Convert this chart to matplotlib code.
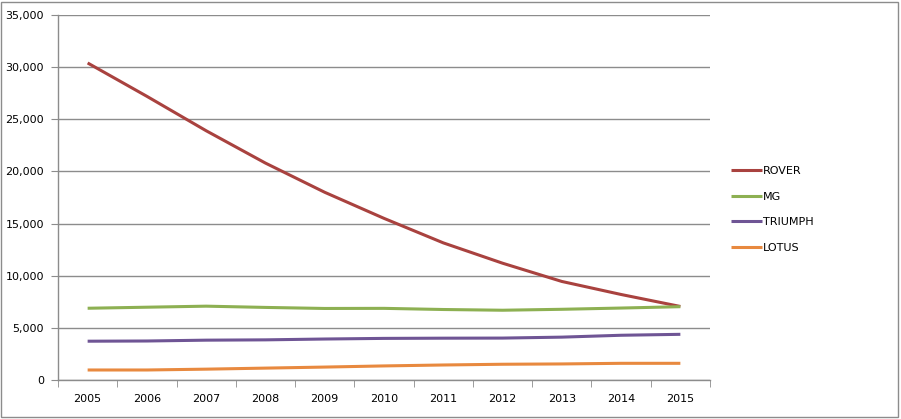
import matplotlib
matplotlib.use("Agg")
import matplotlib.pyplot as plt
from matplotlib.ticker import FuncFormatter, FixedLocator
from matplotlib.patches import Rectangle

years = ["2005", "2006", "2007", "2008", "2009", "2010", "2011", "2012", "2013", "2014", "2015"]
rover = [30400, 27200, 23900, 20800, 18000, 15500, 13150, 11200, 9450, 8200, 7050]
mg = [6880, 6980, 7080, 6960, 6860, 6870, 6760, 6690, 6780, 6900, 7030]
triumph = [3720, 3740, 3820, 3850, 3930, 3990, 4010, 4020, 4110, 4290, 4380]
lotus = [960, 960, 1040, 1140, 1240, 1350, 1440, 1510, 1540, 1600, 1600]

series = [("ROVER", rover, "#A9423F"), ("MG", mg, "#8DB052"),
          ("TRIUMPH", triumph, "#6F5595"), ("LOTUS", lotus, "#E8893F")]

fig = plt.figure(figsize=(9.01, 4.19), dpi=100)
fig.patches.append(Rectangle((1/901, 2/419), 897/901, 415/419, transform=fig.transFigure,
                             fill=False, edgecolor="#8C8C8C", linewidth=1))
ax = fig.add_axes([58/901, 39/419, 652/901, 365/419])

x = list(range(len(years)))
handles = []
for name, vals, col in series:
    h, = ax.plot(x, vals, color=col, linewidth=2.2, solid_capstyle="butt", label=name)
    handles.append(h)

ax.set_xlim(-0.5, len(years) - 0.5)
ax.set_ylim(0, 35000)
ax.set_yticks(range(0, 35001, 5000))
ax.yaxis.set_major_formatter(FuncFormatter(lambda v, p: f"{int(v):,}"))
ax.grid(axis="y", color="#8C8C8C", linewidth=1)
ax.set_axisbelow(True)

ax.set_xticks(x)
ax.set_xticklabels(years)
ax.xaxis.set_minor_locator(FixedLocator([i - 0.5 for i in range(len(years) + 1)]))
ax.tick_params(axis="x", which="major", length=0, pad=10, labelsize=8)
ax.tick_params(axis="x", which="minor", length=5, color="#8C8C8C", direction="out")
ax.tick_params(axis="y", length=5, color="#8C8C8C", labelsize=8, pad=5)

for s in ["top", "right"]:
    ax.spines[s].set_visible(False)
for s in ["left", "bottom"]:
    ax.spines[s].set_color("#8C8C8C")
    ax.spines[s].set_linewidth(1)

fig.legend(handles=handles, loc="upper left", bbox_to_anchor=(721/901, 1 - 156/419),
           frameon=False, fontsize=8, handlelength=2.8, handletextpad=0.1,
           labelspacing=1.4)

fig.savefig("out.png", dpi=100)
